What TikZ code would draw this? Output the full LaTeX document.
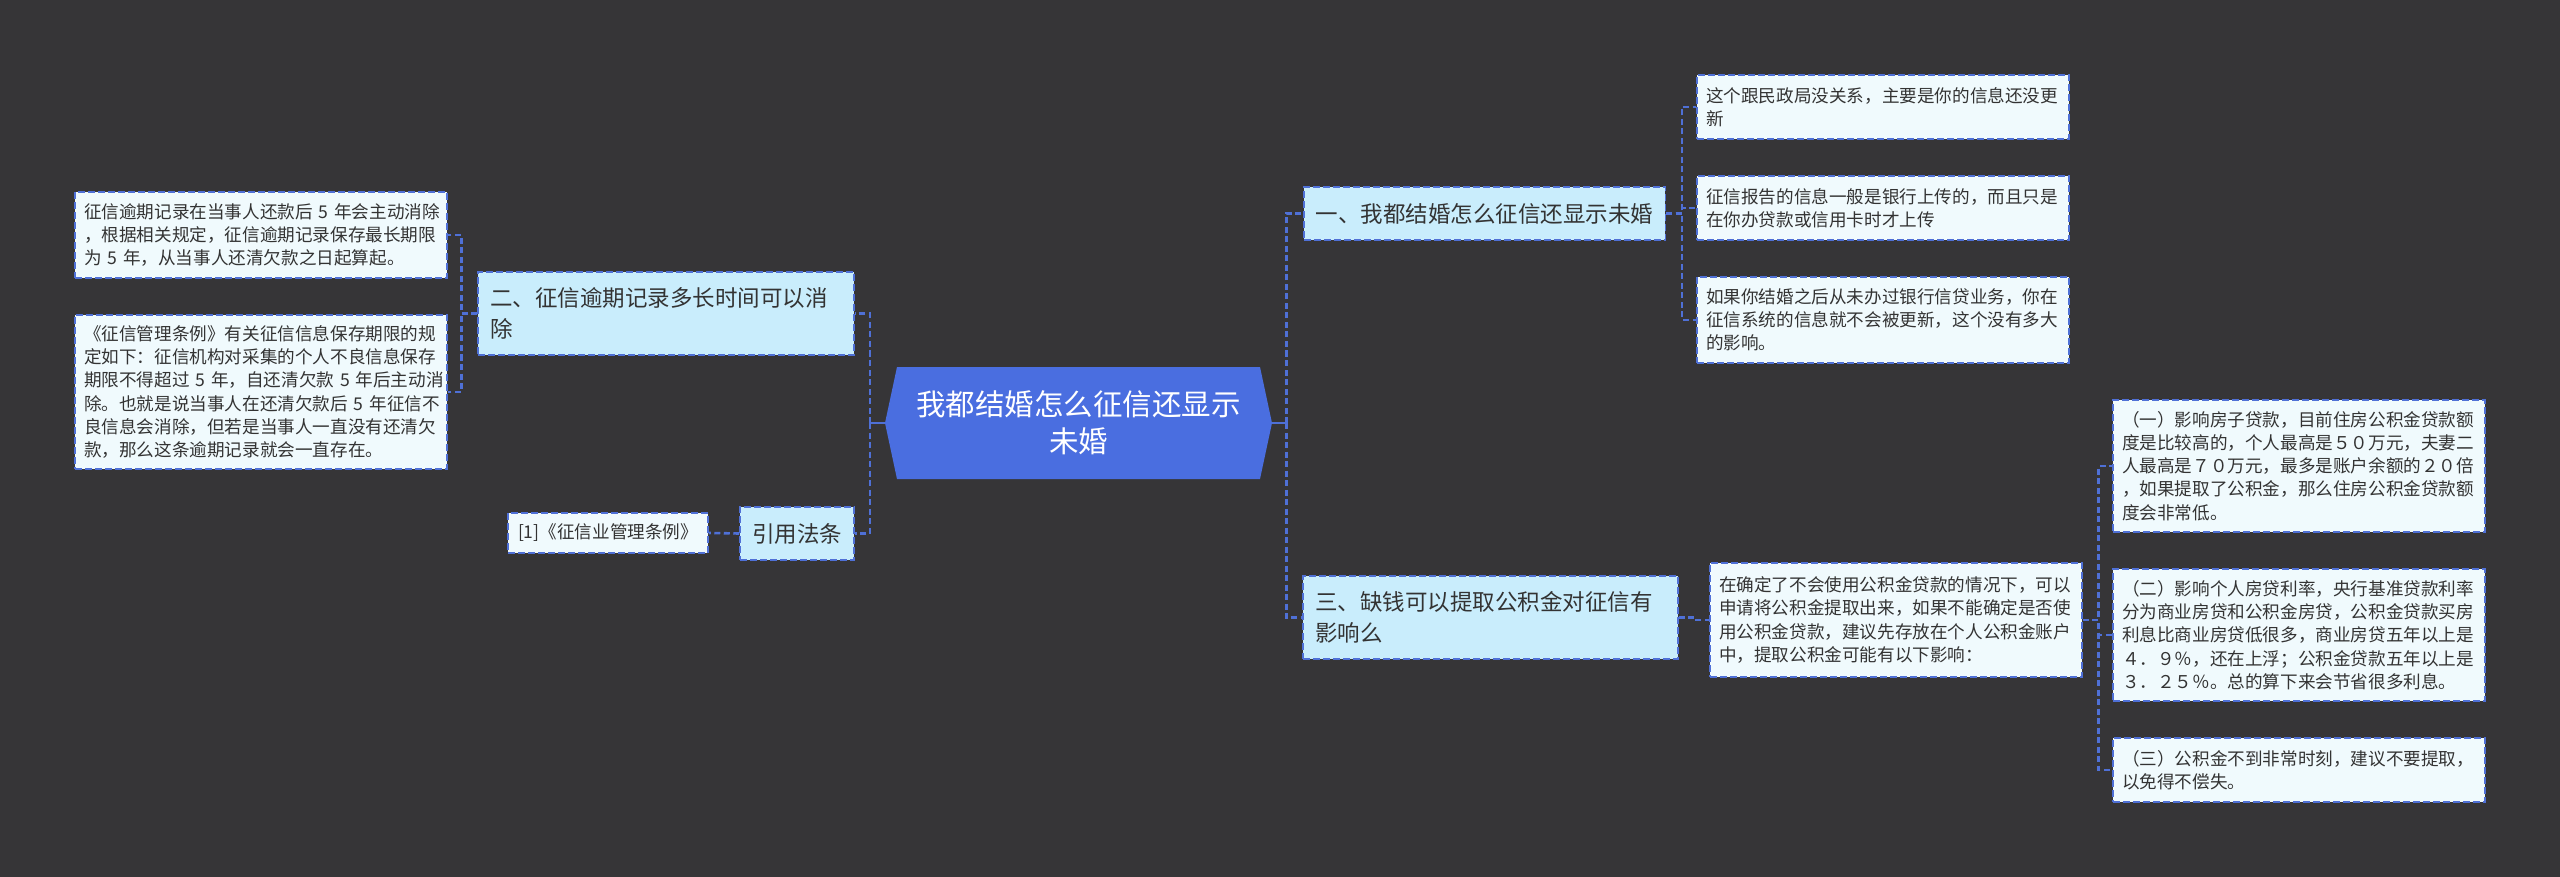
\documentclass[tikz,border=0pt]{standalone}
\usepackage{fontspec}
\setmainfont{Noto Sans CJK SC}
\usepackage{xcolor}
\usepackage{tikz}
\usetikzlibrary{shapes.symbols}

\definecolor{bgdark}{HTML}{363537}
\definecolor{rootblue}{HTML}{4A6EE0}
\definecolor{topicfill}{HTML}{C9EDFC}
\definecolor{leaffill}{HTML}{F0FAFD}
\definecolor{linkblue}{HTML}{4F70D6}
\definecolor{textdark}{HTML}{333333}

\begin{document}
\begin{tikzpicture}[x=1pt, y=-1pt,
            root_box/.style={signal, signal to=east and west, signal pointer angle=155.8, fill=rootblue,
            text=white, minimum width=387pt, minimum height=112pt, align=center, inner sep=0pt,
            font=\fontsize{29.5}{37}\selectfont},
            topic_box/.style={rectangle, draw=linkblue, dash pattern=on 7pt off 3pt, line width=1.5pt,
            fill=topicfill, text=textdark, align=left, inner xsep=12pt, inner ysep=6pt,
            font=\fontsize{22.5}{31.5}\selectfont},
            leaf_box/.style={rectangle, draw=linkblue, dash pattern=on 7pt off 3pt, line width=1.5pt,
            fill=leaffill, text=textdark, align=left, inner xsep=9pt, inner ysep=6pt, text width=354pt,
            font=\fontsize{17.6}{23.2}\selectfont},
            link/.style={draw=linkblue, dash pattern=on 6pt off 3.5pt, line width=2.6pt},
            stub/.style={draw=linkblue, line width=2.6pt}
        ]

            % Canvas
            \fill[bgdark] (0,0) rectangle (2560,877);
            \useasboundingbox (0,0) rectangle (2560,877);

            % Central topic
            \node[root_box] (root) at (1078.5,423) {我都结婚怎么征信还显示\\未婚};

            % Left branches
            \node[topic_box, text width=352pt, minimum height=83pt] (t2) at (666,313.5) {二、征信逾期记录多长时间可以消\\除};
            \node[topic_box, minimum height=53pt] (cite) at (797,533.5) {引用法条};

            \node[leaf_box, minimum height=86pt] (l1) at (261,235) {征信逾期记录在当事人还款后~5~年会主动消除\\，根据相关规定，征信逾期记录保存最长期限\\为~5~年，从当事人还清欠款之日起算起。};
            \node[leaf_box, minimum height=154pt] (l2) at (261,392) {《征信管理条例》有关征信信息保存期限的规\\定如下：征信机构对采集的个人不良信息保存\\期限不得超过~5~年，自还清欠款~5~年后主动消\\除。也就是说当事人在还清欠款后~5~年征信不\\良信息会消除，但若是当事人一直没有还清欠\\款，那么这条逾期记录就会一直存在。};
            \node[leaf_box, text width=180pt, inner xsep=10pt, minimum height=40pt] (ref) at (608,533) {[1]《征信业管理条例》};

            % Right branches
            \node[topic_box, minimum height=53pt] (t1) at (1484.5,213.5) {一、我都结婚怎么征信还显示未婚};
            \node[topic_box, text width=351pt, minimum height=83pt] (t3) at (1490.5,617.5) {三、缺钱可以提取公积金对征信有\\影响么};

            \node[leaf_box, minimum height=64pt] (a1) at (1883,107) {这个跟民政局没关系，主要是你的信息还没更\\新};
            \node[leaf_box, minimum height=64pt] (a2) at (1883,208) {征信报告的信息一般是银行上传的，而且只是\\在你办贷款或信用卡时才上传};
            \node[leaf_box, minimum height=86pt] (a3) at (1883,320) {如果你结婚之后从未办过银行信贷业务，你在\\征信系统的信息就不会被更新，这个没有多大\\的影响。};

            \node[leaf_box, minimum height=114pt] (b1) at (1896,620) {在确定了不会使用公积金贷款的情况下，可以\\申请将公积金提取出来，如果不能确定是否使\\用公积金贷款，建议先存放在个人公积金账户\\中，提取公积金可能有以下影响：};

            \node[leaf_box, minimum height=132pt] (c1) at (2299,466) {（一）影响房子贷款，目前住房公积金贷款额\\度是比较高的，个人最高是５０万元，夫妻二\\人最高是７０万元，最多是账户余额的２０倍\\，如果提取了公积金，那么住房公积金贷款额\\度会非常低。};
            \node[leaf_box, minimum height=132pt] (c2) at (2299,635) {（二）影响个人房贷利率，央行基准贷款利率\\分为商业房贷和公积金房贷，公积金贷款买房\\利息比商业房贷低很多，商业房贷五年以上是\\４．９％，还在上浮；公积金贷款五年以上是\\３．２５％。总的算下来会节省很多利息。};
            \node[leaf_box, minimum height=64pt] (c3) at (2299,770) {（三）公积金不到非常时刻，建议不要提取，\\以免得不偿失。};

            % Connectors
            \draw[stub] (root.west) -- ++(-15,0);
            \draw[stub] (root.east) -- ++(14,0);
            \foreach \n in {t2,cite} {
                \draw[link] (root.west) ++(-15,0) |- (\n.east);
            }
            \foreach \n in {t1,t3} {
                \draw[link] (root.east) ++(14,0) |- (\n.west);
            }
            \foreach \n in {l1,l2} {
                \draw[link] (t2.west) -- ++(-16,0) |- (\n.east);
            }
            \draw[link] (cite.west) -- (ref.east);
            \foreach \n in {a1,a2,a3} {
                \draw[link] (t1.east) -- ++(16,0) |- (\n.west);
            }
            \draw[link] (t3.east) -- ++(16,0) |- (b1.west);
            \foreach \n in {c1,c2,c3} {
                \draw[link] (b1.east) -- ++(16,0) |- (\n.west);
            }

        \end{tikzpicture}
\end{document}
